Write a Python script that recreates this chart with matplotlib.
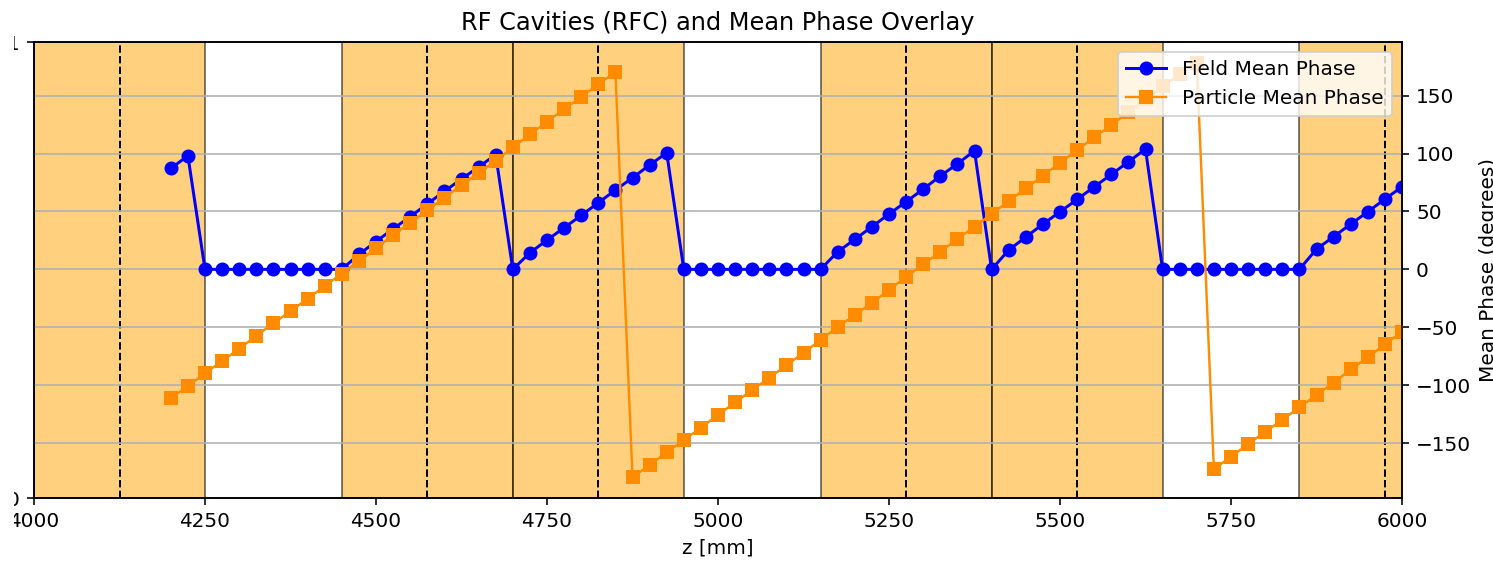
import numpy as np
import matplotlib
matplotlib.use('Agg')
import matplotlib.pyplot as plt
from matplotlib.patches import Rectangle


#==============================================================================
# data
#==============================================================================
z_mm = np.arange(4200, 6025, 25)

field_phase = [87.2, 98.1,
               0, 0, 0, 0, 0, 0, 0, 0, 0,
               13.0, 24.0, 35.0, 45.5, 56.5, 67.5, 78.0, 88.5, 99.0,
               0,
               14.3, 25.3, 35.9, 46.6, 57.5, 68.5, 79.1, 90.1, 100.7,
               0, 0, 0, 0, 0, 0, 0, 0, 0,
               15.2, 25.9, 36.8, 47.8, 58.4, 69.3, 80.6, 91.2, 102.4,
               0,
               16.7, 27.9, 39.1, 49.7, 60.4, 71.3, 82.0, 92.9, 103.9,
               0, 0, 0, 0, 0, 0, 0, 0, 0,
               17.5, 28.2, 39.1, 49.7, 60.7, 71.3]

particle_phase = [-111.4, -100.8, -89.8, -79.2, -68.6, -57.3, -46.6, -36.0, -25.4,
                  -14.4, -3.6, 7.2, 18.1, 29.6, 40.2, 51.2, 61.8, 72.8, 83.4,
                  93.8, 105.4, 116.6, 127.5, 138.4, 149.0, 160.0, 170.6,
                  -179.6, -169.0, -158.0, -147.4, -136.8, -125.8, -114.9, -104.2,
                  -93.6, -82.9, -72.0, -61.0, -49.6, -39.5, -28.8, -17.9, -6.4,
                  4.3, 15.2, 26.2, 36.8, 47.8, 59.0, 70.0, 80.8, 92.0, 103.0,
                  114.0, 124.5, 136.0, 147.0, 158.0, 168.5, 178.5,
                  -172.7, -161.8, -151.1, -140.2, -130.1, -119.2, -108.5, -97.9,
                  -86.4, -76.0, -64.8, -53.9]

rfc_start = [3750, 4000, 4450, 4700, 5150, 5400, 5850, 6100]
rfc_length = 250


#==============================================================================
# figure
#==============================================================================
dpi = 144
fig = plt.figure(figsize=(1493 / dpi, 563 / dpi), dpi=dpi)
ax1 = fig.add_axes([34 / 1493, 65 / 563, 1368 / 1493, 456 / 563])

for start in rfc_start:
    ax1.axvspan(start, start + rfc_length, facecolor='orange',
                edgecolor='black', alpha=0.5)
    ax1.axvline(start + rfc_length / 2, color='black', linestyle='--', linewidth=1)

ax1.set_xlim(4000, 6000)
ax1.set_ylim(0, 1)
ax1.set_yticks([0, 1])
ax1.set_xlabel('z [mm]')
ax1.set_title('RF Cavities (RFC) and Mean Phase Overlay')

ax2 = ax1.twinx()
ax2.plot(z_mm, field_phase, color='blue', marker='o', markersize=6,
         linewidth=1.5, label='Field Mean Phase')
ax2.plot(z_mm, particle_phase, color='darkorange', marker='s', markersize=6,
         linewidth=1.2, label='Particle Mean Phase')
ax2.set_ylabel('Mean Phase (degrees)')
ax2.grid(True)
ax2.legend(loc='upper right')

# the reference image is cropped on its left side
fig.patches.append(Rectangle((0, 0), 14 / 1493, 1, transform=fig.transFigure,
                             facecolor='white', edgecolor='none', zorder=10))

fig.savefig('out.png', dpi=dpi)
plt.close(fig)
